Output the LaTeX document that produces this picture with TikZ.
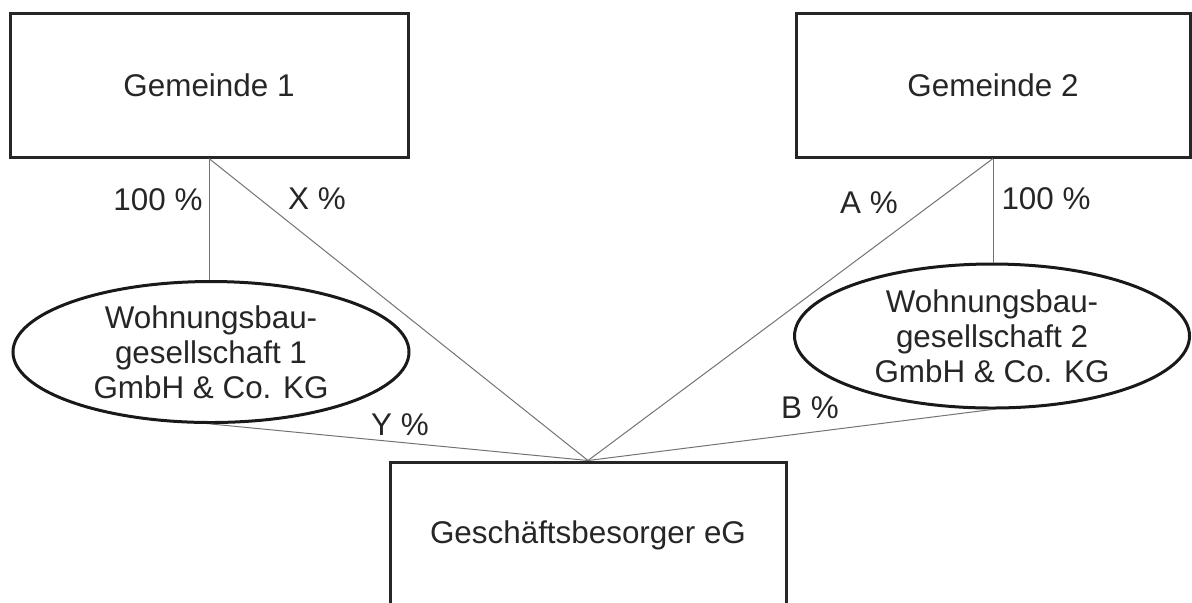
\documentclass[tikz,border=0pt]{standalone}
\usepackage{fontspec}
\setmainfont{Liberation Sans}
\usetikzlibrary{shapes.geometric}
\begin{document}
\begin{tikzpicture}[x=0.5pt,y=-0.5pt,
  txt/.style={font=\fontsize{15.7}{17.5}\selectfont, text=black!85},
  box/.style={txt, draw=black!85, line width=1.5pt, rectangle, inner sep=0pt},
  oval/.style={txt, draw=black!90, line width=1.5pt, ellipse, inner sep=0pt, align=center},
  link/.style={draw=black!55, line width=0.5pt},
  lab/.style={txt, inner sep=0pt}]
\useasboundingbox (0,0) rectangle (1192,602);
\clip (0,0) rectangle (1192,602);
\node[box, minimum width=199pt, minimum height=72pt] (g1) at (209,85) {Gemeinde 1};
\node[box, minimum width=197pt, minimum height=72pt] (g2) at (993,85) {Gemeinde 2};
\node[oval, minimum width=198pt, minimum height=70.5pt] (e1) at (211,352) {Wohnungsbau-\\gesellschaft 1\\GmbH \& Co. KG};
\node[oval, minimum width=197.5pt, minimum height=72pt] (e2) at (992,336) {Wohnungsbau-\\gesellschaft 2\\GmbH \& Co. KG};
\node[box, minimum width=198pt, minimum height=73pt] (gb) at (588,535) {Geschäftsbesorger eG};
\draw[link] (g1.south) -- (g1.south |- e1.north);
\draw[link] (g1.south) -- (gb.north);
\draw[link] (g2.south) -- (g2.south |- e2.north);
\draw[link] (g2.south) -- (gb.north);
\draw[link] (e1.south) -- (gb.north);
\draw[link] (e2.south) -- (gb.north);
\node[lab] (l1) at (158,200) {100 \%};
\node[lab] (l2) at (317,199) {X \%};
\node[lab] (l3) at (400,425) {Y \%};
\node[lab] (l4) at (869,203) {A \%};
\node[lab] (l5) at (1046,199) {100 \%};
\node[lab] (l6) at (810,408) {B \%};
\end{tikzpicture}
\end{document}
